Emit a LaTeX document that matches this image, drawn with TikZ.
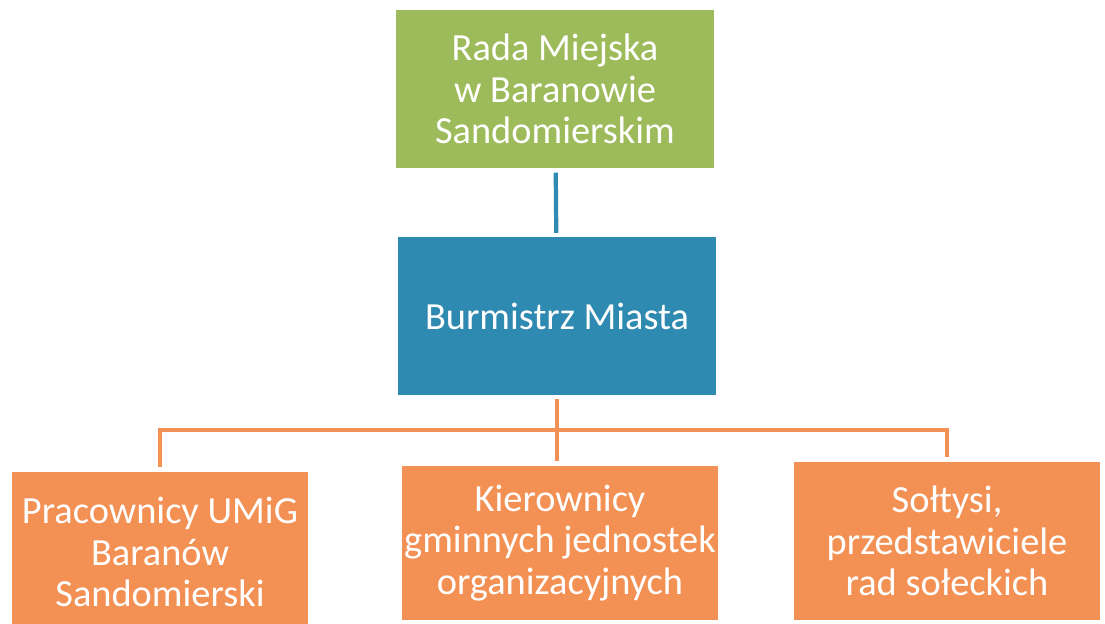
\documentclass[tikz,border=0pt]{standalone}
\usepackage{fontspec}
\setmainfont{Carlito}
\usetikzlibrary{positioning}

\definecolor{radagreen}{HTML}{9DBB5A}
\definecolor{burmblue}{HTML}{2E8AB0}
\definecolor{unitorange}{HTML}{F39155}

\begin{document}
\begin{tikzpicture}[x=0.025cm,y=-0.025cm,
  box/.style={text=white, align=center, inner sep=0pt,
    font=\fontsize{27.3}{29.5}\selectfont},
  link/.style={line width=3pt, shorten >=3pt, shorten <=3pt}]
\useasboundingbox (0,0) rectangle (1105,624);
\clip (0,0) rectangle (1105,624);

\node[box, fill=radagreen, minimum width=7.95cm, minimum height=3.95cm] (rada) at (555,89)
  {Rada Miejska\\w Baranowie\\Sandomierskim};
\node[box, fill=burmblue, minimum width=7.95cm, minimum height=3.93cm] (burm) at (557,316)
  {Burmistrz Miasta};

\node[box, fill=unitorange, minimum width=7.4cm, minimum height=4cm] (prac) at (160,552)
  {Pracownicy UMiG\\Baranów\\Sandomierski};
\node[box, fill=unitorange, minimum width=7.875cm, minimum height=3.85cm] (kier) at (560,543)
  {Kierownicy\\gminnych jednostek\\organizacyjnych};
\node[box, fill=unitorange, minimum width=7.625cm, minimum height=3.95cm] (solt) at (947,541)
  {Sołtysi,\\przedstawiciele\\rad sołeckich};

\draw[link, burmblue] (rada) -- (burm);
\coordinate (bar) at (burm.south |- 0,430);
\draw[link, unitorange, shorten >=0pt] (burm) -- (bar);
\draw[link, unitorange, line width=2.8pt] (prac.north) |- (bar) -| (solt.north);
\draw[link, unitorange, line width=2.8pt, shorten <=0pt] (bar) -- (bar |- kier.north);
\end{tikzpicture}
\end{document}
